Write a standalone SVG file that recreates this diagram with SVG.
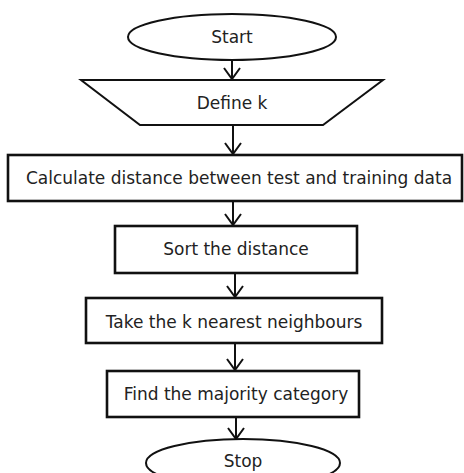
<svg xmlns="http://www.w3.org/2000/svg" width="464" height="473" viewBox="0 0 464 473">
<style>
.shape{fill:#fff;stroke:#111;stroke-width:2}
.box{fill:#fff;stroke:#111;stroke-width:2.6}
.lbl{font-family:"DejaVu Sans",Verdana,sans-serif;font-size:17px;fill:#222;text-anchor:middle}
.conn{stroke:#111;stroke-width:2;fill:none}
</style>
<defs>
<marker id="arr" markerUnits="userSpaceOnUse" orient="auto" refX="0" refY="0" markerWidth="20" markerHeight="20" viewBox="-12 -10 14 20" overflow="visible">
<path d="M-11,-8 L0,0 L-11,8" fill="none" stroke="#111" stroke-width="2"/>
</marker>
</defs>
<rect width="464" height="473" fill="#fff"/>
<g id="connectors">
<line class="conn" x1="232" y1="60" x2="232" y2="79" marker-end="url(#arr)"/>
<line class="conn" x1="233" y1="125" x2="233" y2="154" marker-end="url(#arr)"/>
<line class="conn" x1="233" y1="201" x2="233" y2="225" marker-end="url(#arr)"/>
<line class="conn" x1="235" y1="273" x2="235" y2="297" marker-end="url(#arr)"/>
<line class="conn" x1="235" y1="343" x2="235" y2="370" marker-end="url(#arr)"/>
<line class="conn" x1="236" y1="417" x2="236" y2="439" marker-end="url(#arr)"/>
</g>
<g id="start">
<ellipse class="shape" cx="232" cy="37" rx="104" ry="23"/>
<text class="lbl" x="232" y="43">Start</text>
</g>
<g id="define-k">
<polygon class="shape" points="81,80 383,80 323,125 140,125"/>
<text class="lbl" x="232" y="109">Define k</text>
</g>
<g id="calculate">
<rect class="box" x="8" y="155" width="454" height="46"/>
<text class="lbl" x="239" y="184">Calculate distance between test and training data</text>
</g>
<g id="sort">
<rect class="box" x="115" y="226" width="242" height="47"/>
<text class="lbl" x="236" y="255">Sort the distance</text>
</g>
<g id="take">
<rect class="box" x="86" y="298" width="296" height="45"/>
<text class="lbl" x="234" y="328">Take the k nearest neighbours</text>
</g>
<g id="find">
<rect class="box" x="107" y="371" width="252" height="46"/>
<text class="lbl" x="236" y="400">Find the majority category</text>
</g>
<g id="stop">
<ellipse class="shape" cx="243" cy="463" rx="97" ry="24"/>
<text class="lbl" x="243" y="467">Stop</text>
</g>
</svg>
